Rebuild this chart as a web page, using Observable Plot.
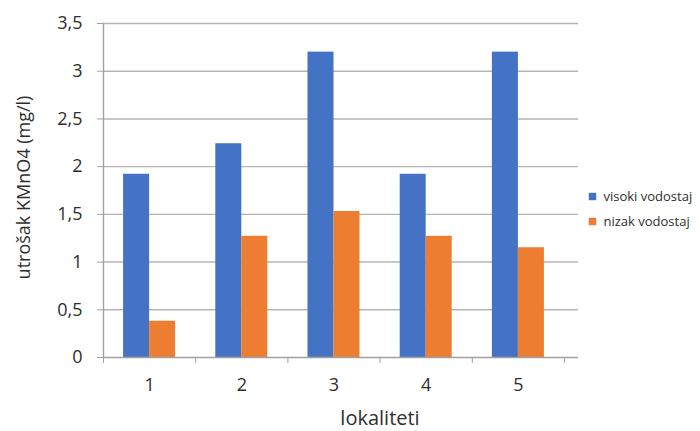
<!DOCTYPE html>
<html>
<head>
<meta charset="utf-8">
<script src="https://cdn.jsdelivr.net/npm/d3@7"></script>
<script src="https://cdn.jsdelivr.net/npm/@observablehq/plot@0.6"></script>
<style>
  html, body { margin: 0; padding: 0; background: #fff; }
  #chart svg { display: block; }
</style>
</head>
<body>
<div id="chart"></div>
<script>
// Data
const categories = ["1", "2", "3", "4", "5"];
const seriesNames = ["visoki vodostaj", "nizak vodostaj"];
const visoki = [1.92, 2.24, 3.20, 1.92, 3.20];
const nizak = [0.38, 1.27, 1.53, 1.27, 1.15];
const yTicks = [0, 0.5, 1, 1.5, 2, 2.5, 3, 3.5];
const colors = ["#4472C4", "#ED7D31"];

const rows = [];
categories.forEach((c, i) => {
  rows.push({lok: i + 1, label: c, series: seriesNames[0], value: visoki[i], side: -1});
  rows.push({lok: i + 1, label: c, series: seriesNames[1], value: nizak[i], side: 0});
});

const barW = 0.282;
const font = "'Open Sans', sans-serif";
const gridColor = "#b5b5b5";
const axisColor = "#a0a0a0";
const textColor = "#2e2e2e";

const plot = Plot.plot({
  width: 700,
  height: 431,
  marginLeft: 103,
  marginRight: 122,
  marginTop: 23,
  marginBottom: 74,
  style: {fontFamily: font, color: textColor, background: "#fff"},
  x: {domain: [0.5, categories.length + 0.5], range: [103, 564]},
  y: {domain: [0, 3.5]},
  color: {domain: seriesNames, range: colors},
  marks: [
    Plot.ruleY(yTicks.filter(d => d > 0), {stroke: gridColor, strokeWidth: 1.4}),
    Plot.rectY(rows, {
      x1: d => d.lok + d.side * barW,
      x2: d => d.lok + (d.side + 1) * barW,
      y1: 0,
      y2: "value",
      fill: "series"
    }),
    Plot.ruleY([0], {stroke: axisColor, strokeWidth: 1.4}),
    Plot.ruleX([0.5], {y1: 0, y2: 3.5, stroke: axisColor, strokeWidth: 1.4}),
    Plot.axisY({
      ticks: yTicks,
      tickSize: 6,
      tickPadding: 15,
      tickFormat: d => String(d).replace(".", ","),
      stroke: axisColor,
      fontSize: 18,
      fill: textColor,
      label: null
    }),
    Plot.axisX({
      ticks: d3.range(0.5, categories.length + 1, 1),
      tickSize: 6,
      stroke: axisColor,
      text: null,
      label: null
    }),
    Plot.axisX({
      ticks: categories.map((c, i) => i + 1),
      tickFormat: d => categories[d - 1],
      tickSize: 0,
      tickPadding: 21,
      fontSize: 18,
      fill: textColor,
      label: null
    }),
    Plot.text(["utrošak KMnO4 (mg/l)"], {
      frameAnchor: "left", dx: -79, dy: -3, rotate: -90,
      fontSize: 18, fill: textColor, textAnchor: "middle", lineAnchor: "middle"
    }),
    Plot.text(["lokaliteti"], {
      frameAnchor: "bottom", dx: 39, dy: 61,
      fontSize: 20, fill: textColor, textAnchor: "middle", lineAnchor: "middle"
    }),
    // legend
    Plot.dot([seriesNames[0]], {frameAnchor: "right", dx: 14, dy: 6, symbol: "square", r: 4.2, fill: d => d, stroke: null}),
    Plot.text([seriesNames[0]], {frameAnchor: "right", dx: 25, dy: 6, textAnchor: "start", fontSize: 13, fill: textColor}),
    Plot.dot([seriesNames[1]], {frameAnchor: "right", dx: 14, dy: 31, symbol: "square", r: 4.2, fill: d => d, stroke: null}),
    Plot.text([seriesNames[1]], {frameAnchor: "right", dx: 25, dy: 31, textAnchor: "start", fontSize: 13, fill: textColor})
  ]
});
document.getElementById("chart").appendChild(plot);
</script>
</body>
</html>
